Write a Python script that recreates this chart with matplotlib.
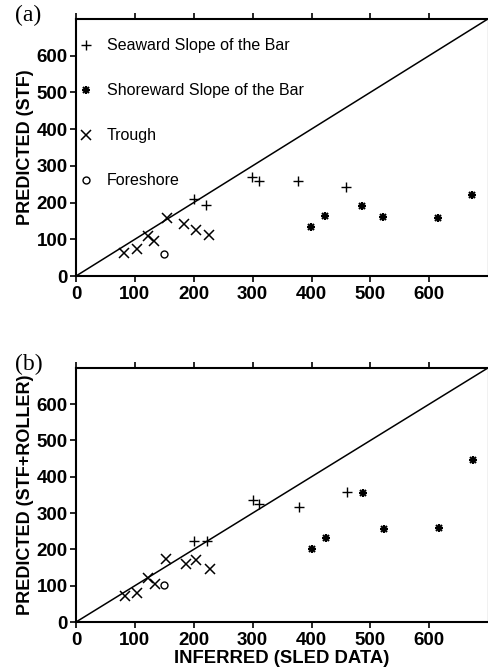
import numpy as np
from matplotlib import pyplot as plt
from matplotlib.legend_handler import HandlerTuple

plt.rcParams['font.family'] = ['Liberation Sans', 'DejaVu Sans']

# panel (a): predicted by STF
sea_x_a = [201, 220, 299, 311, 377, 459]
sea_y_a = [210, 192, 270, 258, 258, 241]
shore_x_a = [399, 423, 486, 521, 614, 672]
shore_y_a = [134, 163, 190, 160, 159, 220]
trough_x_a = [82, 103, 123, 133, 154, 184, 203, 226]
trough_y_a = [62, 73, 109, 95, 157, 141, 126, 111]
fore_x_a = [150]
fore_y_a = [59]

# panel (b): predicted by STF + roller
sea_x_b = [201, 222, 300, 311, 378, 460]
sea_y_b = [224, 222, 335, 324, 317, 357]
shore_x_b = [401, 424, 487, 523, 616, 674]
shore_y_b = [201, 230, 356, 255, 260, 447]
trough_x_b = [83, 103, 122, 134, 153, 186, 203, 227]
trough_y_b = [72, 79, 121, 105, 173, 160, 172, 145]
fore_x_b = [150]
fore_y_b = [101]

ticks = [0, 100, 200, 300, 400, 500, 600]
labels = ['Seaward Slope of the Bar', 'Shoreward Slope of the Bar', 'Trough', 'Foreshore']


def draw_panel(ax, sx, sy, hx, hy, tx, ty, fx, fy, ylabel, tag, legend):
    ax.plot([0, 700], [0, 700], color='k', lw=1.1, zorder=1)
    h1, = ax.plot(sx, sy, ls='none', marker='+', ms=6.5, mew=1.0, color='k')
    h2a, = ax.plot(hx, hy, ls='none', marker='+', ms=6, mew=1.5, color='k')
    h2b, = ax.plot(hx, hy, ls='none', marker='x', ms=5, mew=1.5, color='k')
    h3, = ax.plot(tx, ty, ls='none', marker='x', ms=6.5, mew=1.1, color='k')
    h4, = ax.plot(fx, fy, ls='none', marker='o', ms=5, mew=1.0, mfc='none', color='k')
    ax.set_xlim(0, 700)
    ax.set_ylim(0, 700)
    ax.set_xticks(ticks)
    ax.set_yticks(ticks)
    ax.tick_params(direction='out', length=4, width=1.2, labelsize=13.5, pad=2,
                   top=True, right=False)
    ax.tick_params(axis='x', pad=3)
    for lab in ax.get_xticklabels() + ax.get_yticklabels():
        lab.set_fontweight('bold')
    for sp in ax.spines.values():
        sp.set_linewidth(1.5)
    ax.spines['right'].set_linewidth(0.8)
    ax.set_ylabel(ylabel, fontsize=13, fontweight='bold', labelpad=2)
    ax.text(-0.148, 1.012, tag, transform=ax.transAxes, fontsize=17,
            family='Liberation Serif', ha='left', va='center')
    if legend:
        ax.legend([h1, (h2a, h2b), h3, h4], labels, loc='upper left', frameon=False,
                  fontsize=11.5, labelspacing=1.88, handletextpad=0.8,
                  bbox_to_anchor=(-0.03, 0.98), handlelength=1.0,
                  handler_map={tuple: HandlerTuple(ndivide=1)})


fig = plt.figure(figsize=(4.89, 6.70), dpi=100)
ax1 = fig.add_axes([0.1554, 0.588, 0.843, 0.384])
ax2 = fig.add_axes([0.1554, 0.0716, 0.843, 0.3795])

draw_panel(ax1, sea_x_a, sea_y_a, shore_x_a, shore_y_a, trough_x_a, trough_y_a,
           fore_x_a, fore_y_a, 'PREDICTED (STF)', '(a)', True)
draw_panel(ax2, sea_x_b, sea_y_b, shore_x_b, shore_y_b, trough_x_b, trough_y_b,
           fore_x_b, fore_y_b, 'PREDICTED (STF+ROLLER)', '(b)', False)
ax2.set_xlabel('INFERRED (SLED DATA)', fontsize=13.3, fontweight='bold', labelpad=1)

fig.savefig('out.png', dpi=100)
